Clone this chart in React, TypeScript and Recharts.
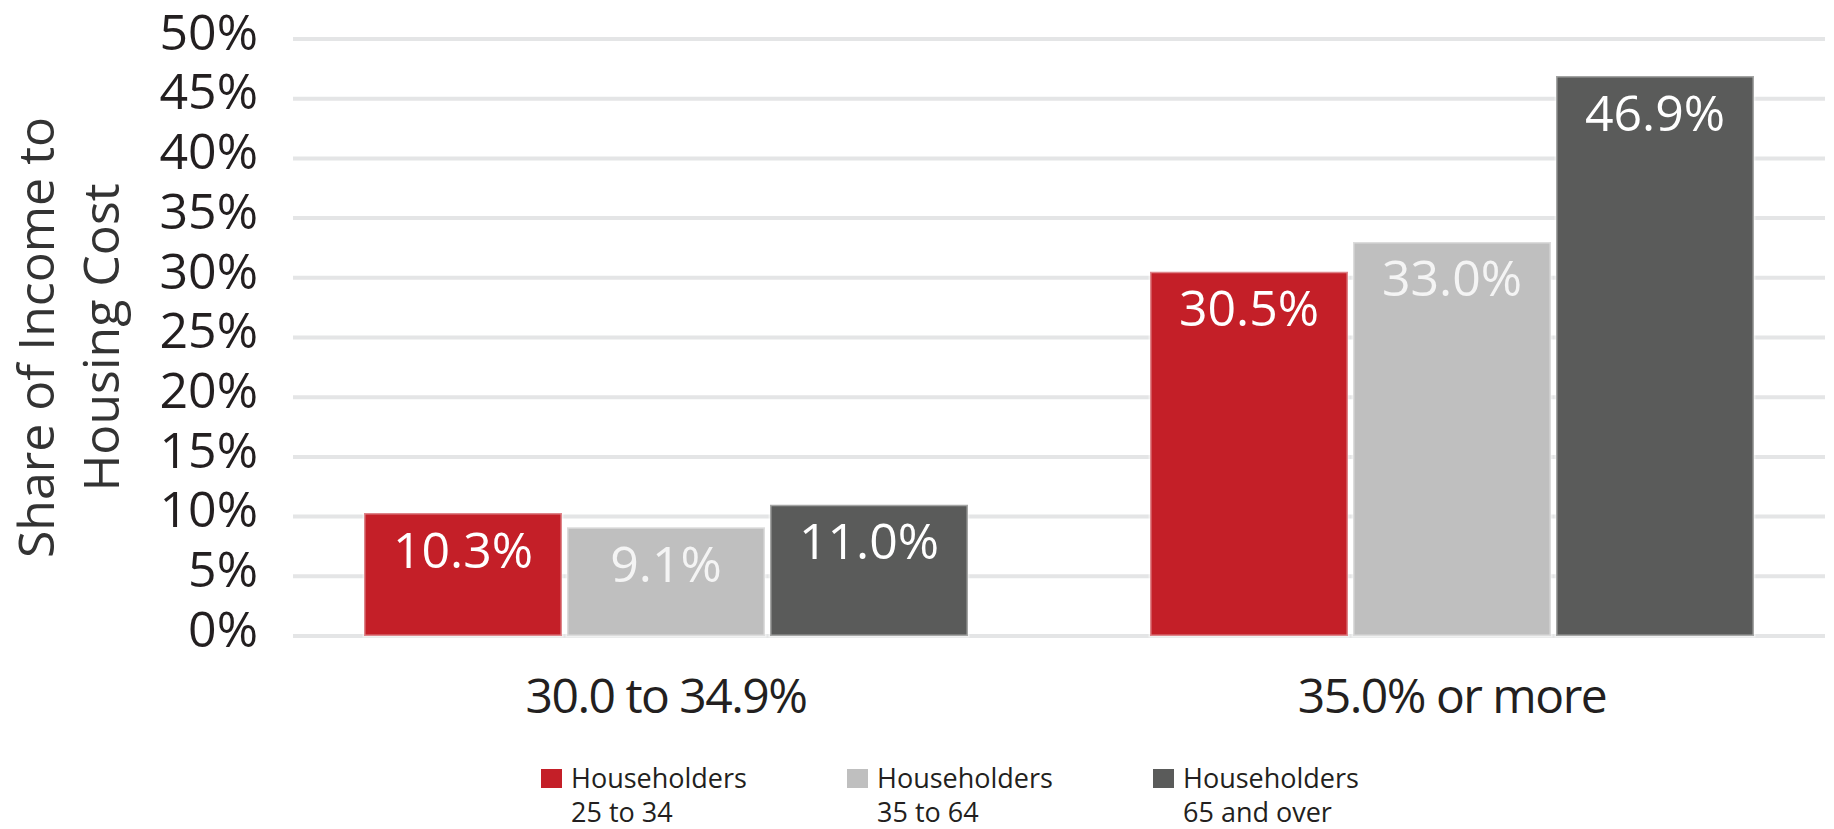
import { BarChart, Bar, XAxis, YAxis, CartesianGrid, Legend, LabelList } from 'recharts'

const categories = ['30.0 to 34.9%', '35.0% or more']
const age25to34 = [10.3, 30.5]
const age35to64 = [9.1, 33.0]
const age65plus = [11.0, 46.9]
const yTicks = [0, 5, 10, 15, 20, 25, 30, 35, 40, 45, 50]

const series = [
  { key: 'a', name: ['Householders', '25 to 34'], values: age25to34, color: '#c41f28', label: '#ffffff' },
  { key: 'b', name: ['Householders', '35 to 64'], values: age35to64, color: '#bfbfbf', label: '#f4f4f4' },
  { key: 'c', name: ['Householders', '65 and over'], values: age65plus, color: '#5a5b5a', label: '#ffffff' },
]

const data = categories.map((category, i) => {
  const row: Record<string, string | number> = { category }
  series.forEach((s) => (row[s.key] = s.values[i]))
  return row
})

const FONT = '"Open Sans", sans-serif'
const TEXT = '#231f20'

function YLabel({ viewBox }: any) {
  const cx = viewBox.x + 54
  const cy = viewBox.y + viewBox.height / 2
  return (
    <text
      x={cx}
      y={cy}
      transform={`rotate(-90, ${cx}, ${cy})`}
      textAnchor="middle"
      fill="#333"
      fontSize={50}
      fontFamily={FONT}
    >
      <tspan x={cx} dy={0}>Share of Income to</tspan>
      <tspan x={cx} dy={65}>Housing Cost</tspan>
    </text>
  )
}

function LegendBox() {
  return (
    <div style={{ display: 'flex', fontFamily: FONT, fontSize: 27, lineHeight: '34px', color: TEXT }}>
      {series.map((s) => (
        <div key={s.key} style={{ display: 'flex', width: 306 }}>
          <div style={{ width: 21, height: 19, marginTop: 8, marginRight: 9, background: s.color }} />
          <div>
            <div>{s.name[0]}</div>
            <div>{s.name[1]}</div>
          </div>
        </div>
      ))}
    </div>
  )
}

export default function App() {
  return (
    <div style={{ position: 'relative', width: 1834, height: 829, background: '#fff' }}>
      <style>{'body{margin:0}'}</style>
      <BarChart
        width={1834}
        height={829}
        data={data}
        margin={{ top: 39, right: 9, bottom: 93, left: 0 }}
        barSize={198}
        barGap={5}
      >
        <CartesianGrid vertical={false} stroke="#e4e5e6" strokeWidth={4} />
        <XAxis
          dataKey="category"
          height={100}
          padding={{ left: -20, right: -20 }}
          axisLine={false}
          tickLine={false}
          tickSize={0}
          tickMargin={43}
          tick={{ fill: TEXT, fontSize: 48, fontFamily: FONT, letterSpacing: -1.5 }}
        />
        <YAxis
          domain={[0, 50]}
          ticks={yTicks}
          interval={0}
          width={293}
          axisLine={false}
          tickLine={false}
          tickSize={0}
          tickMargin={35}
          tickFormatter={(v) => `${v}%`}
          tick={{ fill: TEXT, fontSize: 50, fontFamily: FONT, dy: -7 }}
          label={{ content: (p: any) => <YLabel {...p} /> }}
        />
        <Legend
          content={() => <LegendBox />}
          verticalAlign="middle"
          align="center"
          wrapperStyle={{ left: 541, top: 761, width: 960 }}
        />
        {series.map((s) => (
          <Bar
            key={s.key}
            dataKey={s.key}
            fill={s.color}
            stroke="#ffffff"
            strokeOpacity={0.45}
            strokeWidth={3}
            isAnimationActive={false}
          >
            <LabelList
              dataKey={s.key}
              position="insideTop"
              offset={19}
              formatter={(v: any) => `${Number(v).toFixed(1)}%`}
              fill={s.label}
              fontSize={50}
              fontFamily={FONT}
            />
          </Bar>
        ))}
      </BarChart>
    </div>
  )
}
